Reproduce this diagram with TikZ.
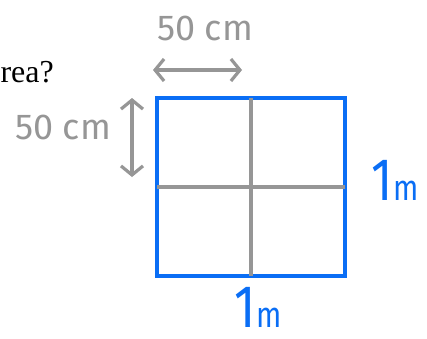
\documentclass[tikz,border=0pt]{standalone}
\usepackage{fontspec}
\setmainfont{Liberation Serif}
\newfontfamily\handfont{Fira Sans}
\usepackage{xcolor}
\definecolor{pen}{RGB}{150,150,150}
\definecolor{ink}{RGB}{10,110,245}
\usetikzlibrary{arrows.meta,positioning,calc}
\newcommand{\onem}{{\fontsize{60}{62}\selectfont 1}{\fontsize{36}{40}\selectfont m}}
\tikzset{
  square/.style={draw=ink,line width=3.6pt,outer sep=0pt,inner sep=0pt,%
    minimum width=188pt,minimum height=178pt},
  half/.style={draw=pen,line width=3.2pt},
  hand/.style={text=pen,inner sep=0pt,font=\handfont\fontsize{36}{40}\selectfont},
  handblue/.style={text=ink,inner sep=0pt,xscale=0.82,font=\handfont},
  dim/.style={{Straight Barb[length=9pt,width=22pt]}-{Straight Barb[length=9pt,width=22pt]},%
    line width=3.2pt,draw=pen,line cap=round},
}
\begin{document}
\begin{tikzpicture}[x=1pt,y=-1pt]
\useasboundingbox[fill=white] (0,0) rectangle (427,338);
\node[anchor=base east,inner sep=0pt,font=\fontsize{32}{36}\selectfont] (question) at (54,82) {area?};
\node[square] (sq) at (251,187) {};
\draw[half] (sq.north) -- (sq.south);
\draw[half] (sq.west) -- (sq.east);
% dimensions
\coordinate (hl) at (153,70);
\coordinate (hr) at (242,70);
\coordinate (vt) at (132,98);
\coordinate (vb) at (132,177);
\draw[dim] (hl) -- (hr);
\draw[dim] (vt) -- (vb);
\node[hand] (toplen) at (205,28) {50 cm};
\node[hand] (leftlen) at (63,127) {50 cm};
\node[handblue,anchor=base] (rightlen) at (395,200) {\onem};
\node[handblue,anchor=base] (bottomlen) at (258,327) {\onem};
\end{tikzpicture}
\end{document}
